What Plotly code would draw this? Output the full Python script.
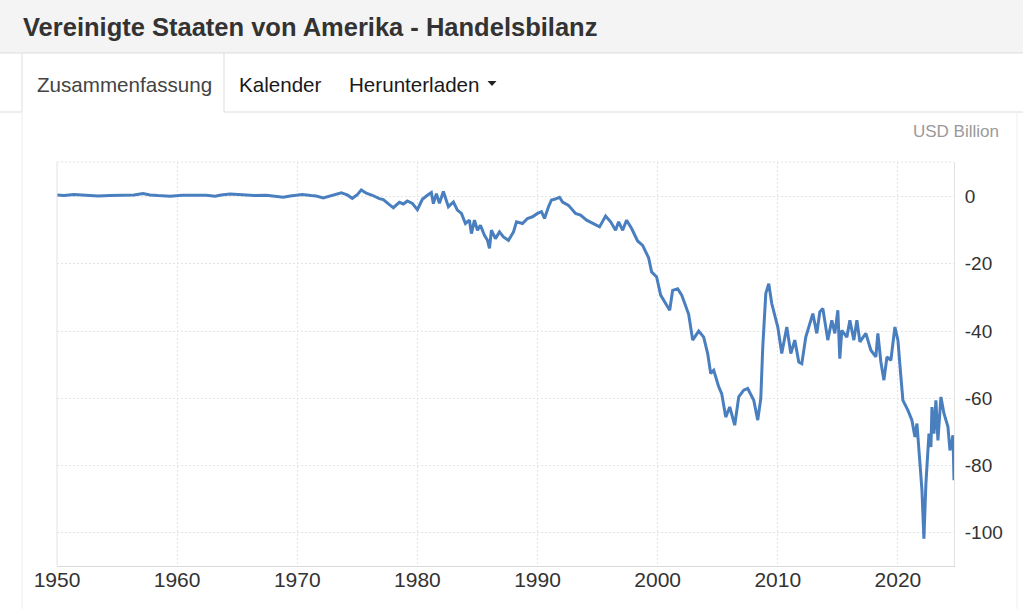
import plotly.graph_objects as go

# ---------------- data ----------------
dates = [
    "1950-01", "1950-08", "1951-06", "1952-06", "1953-06", "1954-06", "1955-06", "1956-06",
    "1957-03", "1957-10", "1958-06", "1959-06", "1960-06", "1961-06", "1962-06", "1963-03",
    "1963-09", "1964-06", "1965-01", "1965-08", "1966-06", "1967-06", "1968-06", "1968-11",
    "1969-06", "1970-01", "1970-06", "1971-03", "1971-08", "1972-03", "1972-09", "1973-03",
    "1973-09", "1974-03", "1974-08", "1975-01", "1975-05", "1975-10", "1976-04", "1976-11",
    "1977-03", "1977-09", "1978-01", "1978-07", "1978-11", "1979-03", "1979-08", "1980-01",
    "1980-06", "1980-11", "1981-03", "1981-05", "1981-08", "1981-11", "1982-03", "1982-08",
    "1983-01", "1983-05", "1983-09", "1984-01", "1984-05", "1984-07", "1984-10", "1985-01",
    "1985-04", "1985-08", "1985-11", "1986-01", "1986-03", "1986-07", "1986-11", "1987-03",
    "1987-08", "1988-01", "1988-04", "1988-10", "1989-03", "1989-08", "1990-01", "1990-05",
    "1990-08", "1990-12", "1991-03", "1991-06", "1991-11", "1992-02", "1992-08", "1993-03",
    "1993-08", "1994-02", "1994-08", "1995-03", "1995-09", "1996-02", "1996-07", "1996-10",
    "1997-02", "1997-06", "1997-11", "1998-05", "1998-10", "1999-04", "1999-07", "1999-12",
    "2000-04", "2000-09", "2001-01", "2001-04", "2001-09", "2002-01", "2002-05", "2002-08",
    "2002-12", "2003-06", "2003-11", "2004-03", "2004-06", "2004-09", "2005-02", "2005-05",
    "2005-09", "2006-01", "2006-06", "2006-10", "2007-03", "2007-07", "2008-01", "2008-05",
    "2008-08", "2008-10", "2009-01", "2009-04", "2009-07", "2010-01", "2010-05", "2010-10",
    "2011-02", "2011-06", "2011-10", "2012-01", "2012-05", "2012-08", "2012-12", "2013-04",
    "2013-07", "2013-10", "2014-03", "2014-07", "2014-10", "2015-01", "2015-03", "2015-05",
    "2015-10", "2016-01", "2016-05", "2016-08", "2016-11", "2017-05", "2017-10", "2018-03",
    "2018-05", "2018-08", "2018-11", "2019-02", "2019-06", "2019-10", "2020-01", "2020-04",
    "2020-06", "2020-11", "2021-03", "2021-06", "2021-08", "2021-11", "2022-01", "2022-03",
    "2022-05", "2022-08", "2022-10", "2022-11", "2023-01", "2023-03", "2023-05", "2023-08",
    "2023-11", "2024-03", "2024-05", "2024-08", "2024-09",
]
balance = [
    0.5, 0.3, 0.6, 0.4, 0.2, 0.3, 0.4, 0.5,
    0.9, 0.5, 0.3, 0.1, 0.4, 0.5, 0.4, 0.1,
    0.5, 0.8, 0.6, 0.4, 0.3, 0.4, 0.1, -0.2,
    0.2, 0.4, 0.6, 0.3, 0.2, -0.4, 0.1, 0.4,
    1.1, 0.5, -0.5, 0.6, 2.0, 1.0, 0.4, -0.6,
    -0.9, -2.4, -3.3, -1.7, -2.2, -1.3, -2.0, -3.9,
    -0.8, 0.4, 1.2, -2.1, 0.9, -2.0, 1.5, -3.0,
    -1.6, -4.0, -5.0, -8.0, -7.0, -11.0, -7.0, -10.0,
    -8.5, -11.5, -13.0, -15.4, -10.0, -12.5, -10.5, -12.0,
    -13.0, -10.5, -7.5, -8.0, -6.5, -6.0, -5.0, -4.5,
    -6.5, -3.0, -1.0, -0.8, -0.2, -1.6, -2.6, -5.0,
    -5.5, -7.0, -8.0, -9.0, -5.8, -7.5, -10.0, -7.5,
    -10.0, -7.0, -9.5, -13.2, -14.5, -18.2, -22.4, -23.9,
    -29.3, -31.8, -33.8, -27.9, -27.4, -29.3, -32.8, -35.0,
    -42.7, -40.0, -41.8, -46.7, -52.6, -51.7, -56.6, -58.6,
    -65.6, -62.6, -68.0, -59.6, -57.6, -57.1, -60.6, -66.5,
    -60.1, -44.7, -28.8, -25.9, -31.8, -38.8, -46.7, -38.8,
    -46.7, -42.7, -49.2, -49.7, -41.8, -38.8, -34.8, -40.7,
    -34.3, -33.3, -42.7, -36.8, -40.7, -33.8, -48.2, -39.8,
    -41.8, -36.8, -42.7, -36.8, -43.2, -40.7, -45.7, -47.7,
    -40.7, -49.2, -54.6, -47.7, -48.7, -38.8, -42.7, -53.7,
    -60.6, -63.6, -66.5, -71.5, -67.5, -79.4, -87.4, -101.8,
    -85.4, -70.5, -74.5, -62.6, -70.5, -60.6, -72.5, -59.6,
    -64.5, -68.5, -75.5, -71.0, -84.4,
]
y_ticks = [0, -20, -40, -60, -80, -100]
y_ticklabels = ["0", "-20", "-40", "-60", "-80", "-100"]

title_text = "Vereinigte Staaten von Amerika - Handelsbilanz"
tabs = ["Zusammenfassung", "Kalender", "Herunterladen"]
unit_text = "USD Billion"

# ---------------- layout geometry ----------------
W, H = 1023, 609
L, R, T, B = 57, 69, 162, 43
PW = W - L - R
PH = H - T - B


def px(x):
    return (x - L) / PW


def py(y):
    return (H - B - y) / PH


FONT = "Liberation Sans, Arial, sans-serif"
BORDER = "#dddddd"
GRID = "#e4e4e4"
GRID_DASH = "2px,2px"

fig = go.Figure()
fig.add_trace(go.Scatter(
    x=dates, y=balance, mode="lines",
    line=dict(color="#4a7fbf", width=3),
    hoverinfo="skip", showlegend=False,
))

shapes = []
# header band
shapes.append(dict(type="rect", xref="paper", yref="paper", x0=px(0), x1=px(W), y0=py(53), y1=py(0),
                   fillcolor="#f4f4f4", line=dict(width=0), layer="below"))
shapes.append(dict(type="line", xref="paper", yref="paper", x0=px(0), x1=px(W), y0=py(53), y1=py(53),
                   line=dict(color=BORDER, width=1)))
# active tab borders
for xx in (22, 224):
    shapes.append(dict(type="line", xref="paper", yref="paper", x0=px(xx), x1=px(xx), y0=py(53), y1=py(112),
                       line=dict(color=BORDER, width=1)))
shapes.append(dict(type="line", xref="paper", yref="paper", x0=px(0), x1=px(22), y0=py(112), y1=py(112),
                   line=dict(color=BORDER, width=1)))
shapes.append(dict(type="line", xref="paper", yref="paper", x0=px(224), x1=px(W), y0=py(112), y1=py(112),
                   line=dict(color=BORDER, width=1)))
# container side borders
for xx in (22, 1017):
    shapes.append(dict(type="line", xref="paper", yref="paper", x0=px(xx), x1=px(xx), y0=py(112), y1=py(H),
                       line=dict(color="#eeeeee", width=1)))
# dropdown caret
cx, cy = 492, 81
shapes.append(dict(type="path", xref="paper", yref="paper",
                   path=f"M {px(cx-4.5)} {py(cy)} L {px(cx+4.5)} {py(cy)} L {px(cx)} {py(cy+5)} Z",
                   fillcolor="#222222", line=dict(width=0)))
# plot frame: left solid, top dotted
shapes.append(dict(type="line", xref="paper", yref="paper", x0=0, x1=0, y0=0, y1=1,
                   line=dict(color="#e2e2e2", width=1)))
shapes.append(dict(type="line", xref="paper", yref="paper", x0=0, x1=1, y0=1, y1=1,
                   line=dict(color=GRID, width=1, dash=GRID_DASH)))

annotations = [
    dict(text=f"<b>{title_text}</b>", xref="paper", yref="paper", x=px(21), y=py(27),
         xanchor="left", yanchor="middle", showarrow=False,
         font=dict(family=FONT, size=25.5, color="#333333")),
    dict(text=tabs[0], xref="paper", yref="paper", x=px(35), y=py(84),
         xanchor="left", yanchor="middle", showarrow=False,
         font=dict(family=FONT, size=20.6, color="#444444")),
    dict(text=tabs[1], xref="paper", yref="paper", x=px(237), y=py(84),
         xanchor="left", yanchor="middle", showarrow=False,
         font=dict(family=FONT, size=20.6, color="#1a1a1a")),
    dict(text=tabs[2], xref="paper", yref="paper", x=px(347), y=py(84),
         xanchor="left", yanchor="middle", showarrow=False,
         font=dict(family=FONT, size=20.6, color="#1a1a1a")),
    dict(text=unit_text, xref="paper", yref="paper", x=px(1001), y=py(132),
         xanchor="right", yanchor="middle", showarrow=False,
         font=dict(family=FONT, size=17, color="#9a9a9a")),
]

fig.update_layout(
    width=W, height=H,
    margin=dict(l=L, r=R, t=T, b=B, pad=0),
    paper_bgcolor="white", plot_bgcolor="white",
    shapes=shapes, annotations=annotations,
    showlegend=False, hovermode=False,
    xaxis=dict(
        type="date", range=["1950-01-01", "2024-09-01"],
        dtick="M120", tick0="1950-01-01", tickformat="%Y",
        showgrid=True, gridcolor=GRID, gridwidth=1, griddash=GRID_DASH,
        showline=True, linecolor="#d9d9d9", linewidth=1,
        ticks="", zeroline=False, ticklabelstandoff=-5,
        tickfont=dict(family=FONT, size=21, color="#333333"),
    ),
    yaxis=dict(
        side="right", range=[-109.9, 10.3],
        tickvals=y_ticks, ticktext=y_ticklabels,
        showgrid=True, gridcolor=GRID, gridwidth=1, griddash=GRID_DASH,
        showline=True, linecolor="#e2e2e2", linewidth=1,
        ticks="outside", ticklen=6, tickcolor="rgba(0,0,0,0)",
        zeroline=False,
        tickfont=dict(family=FONT, size=19, color="#333333"),
    ),
)

fig.write_html(
    "out.html",
    config={"displayModeBar": False, "staticPlot": True},
    post_script="document.body.style.margin='0px';document.body.style.overflow='hidden';",
)
